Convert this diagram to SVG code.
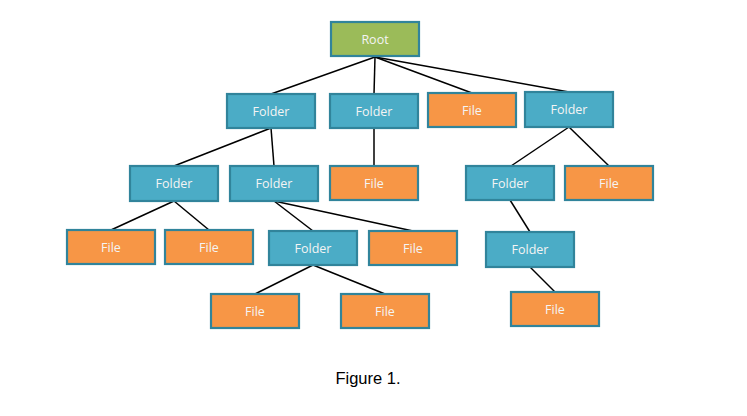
<svg xmlns="http://www.w3.org/2000/svg" width="747" height="416" viewBox="0 0 747 416">
<style>
.n rect{stroke:#31849B;stroke-width:2.2}
.g rect{fill:#9BBB59}
.b rect{fill:#4BACC6}
.o rect{fill:#F79646}
.n text{font-family:"Open Sans","Noto Sans",sans-serif;font-size:12.5px;fill:#F4F4F4;text-anchor:middle;dominant-baseline:central}
#edges line{stroke:#000;stroke-width:1.5}
.cap{font-family:"Liberation Sans",Arial,sans-serif;font-size:16.5px;fill:#000;text-anchor:middle}
</style>
<rect width="747" height="416" fill="#fff"/>
<g id="edges">
<line x1="375" y1="57" x2="271" y2="94"/>
<line x1="375" y1="57" x2="374" y2="94"/>
<line x1="375" y1="57" x2="472" y2="93"/>
<line x1="375" y1="57" x2="569" y2="92"/>
<line x1="271" y1="128" x2="174" y2="166"/>
<line x1="271" y1="128" x2="274" y2="166"/>
<line x1="374" y1="128" x2="374" y2="166"/>
<line x1="569" y1="127" x2="511" y2="166"/>
<line x1="569" y1="127" x2="609" y2="166"/>
<line x1="174" y1="201" x2="111" y2="230"/>
<line x1="174" y1="201" x2="209" y2="230"/>
<line x1="274" y1="201" x2="313" y2="231"/>
<line x1="274" y1="201" x2="413" y2="231"/>
<line x1="510" y1="200" x2="530" y2="232"/>
<line x1="313" y1="265" x2="255" y2="294"/>
<line x1="313" y1="265" x2="385" y2="294"/>
<line x1="530" y1="267" x2="555" y2="292"/>
</g>
<g id="root" class="n g"><rect x="331" y="22" width="88" height="34"/><text x="375" y="39">Root</text></g>
<g id="folder1" class="n b"><rect x="227" y="94" width="88" height="34"/><text x="271" y="111">Folder</text></g>
<g id="folder2" class="n b"><rect x="330" y="94" width="88" height="34"/><text x="374" y="111">Folder</text></g>
<g id="file1" class="n o"><rect x="428" y="93" width="88" height="34"/><text x="472" y="110">File</text></g>
<g id="folder3" class="n b"><rect x="525" y="92" width="88" height="35"/><text x="569" y="109">Folder</text></g>
<g id="folder4" class="n b"><rect x="130" y="166" width="88" height="35"/><text x="174" y="183">Folder</text></g>
<g id="folder5" class="n b"><rect x="230" y="166" width="88" height="35"/><text x="274" y="183">Folder</text></g>
<g id="file2" class="n o"><rect x="330" y="166" width="88" height="34"/><text x="374" y="183">File</text></g>
<g id="folder6" class="n b"><rect x="466" y="166" width="88" height="34"/><text x="510" y="183">Folder</text></g>
<g id="file3" class="n o"><rect x="565" y="166" width="88" height="34"/><text x="609" y="183">File</text></g>
<g id="file4" class="n o"><rect x="67" y="230" width="88" height="34"/><text x="111" y="247">File</text></g>
<g id="file5" class="n o"><rect x="165" y="230" width="88" height="34"/><text x="209" y="247">File</text></g>
<g id="folder7" class="n b"><rect x="269" y="231" width="88" height="34"/><text x="313" y="248">Folder</text></g>
<g id="file6" class="n o"><rect x="369" y="231" width="88" height="34"/><text x="413" y="248">File</text></g>
<g id="folder8" class="n b"><rect x="486" y="232" width="88" height="35"/><text x="530" y="249">Folder</text></g>
<g id="file7" class="n o"><rect x="211" y="294" width="88" height="34"/><text x="255" y="311">File</text></g>
<g id="file8" class="n o"><rect x="341" y="294" width="88" height="34"/><text x="385" y="311">File</text></g>
<g id="file9" class="n o"><rect x="511" y="292" width="88" height="34"/><text x="555" y="309">File</text></g>
<text class="cap" x="368" y="384">Figure 1.</text>
</svg>
